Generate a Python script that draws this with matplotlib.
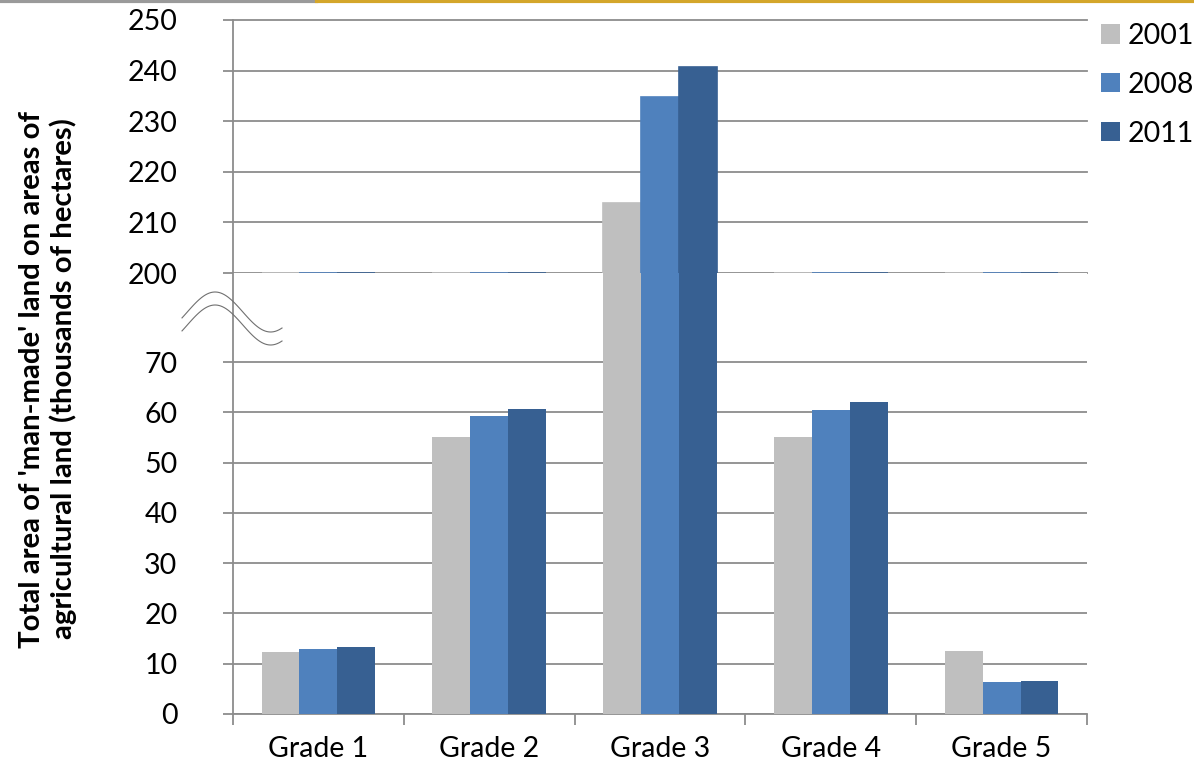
import numpy as np
import matplotlib
matplotlib.use("Agg")
import matplotlib.pyplot as plt
from matplotlib.patches import Patch
from matplotlib.lines import Line2D

categories = ["Grade 1", "Grade 2", "Grade 3", "Grade 4", "Grade 5"]
years = ["2001", "2008", "2011"]
v2001 = [12.3, 55.0, 213.8, 55.0, 12.6]
v2008 = [12.9, 59.3, 234.8, 60.5, 6.4]
v2011 = [13.3, 60.6, 240.7, 62.0, 6.6]
series = [v2001, v2008, v2011]
colors = ["#BFBFBF", "#4F81BD", "#376092"]
lower_ticks = [0, 10, 20, 30, 40, 50, 60, 70]
upper_ticks = [200, 210, 220, 230, 240, 250]

plt.rcParams['font.family'] = ['Lato', 'DejaVu Sans']
W, H = 1194, 766
fig = plt.figure(figsize=(W / 100, H / 100), dpi=100)

left, right = 233 / W, 1087 / W
y_top, y_mid, y_bot = 1 - 20 / H, 1 - 273 / H, 1 - 714 / H
ax_up = fig.add_axes([left, y_mid, right - left, y_top - y_mid])
ax_lo = fig.add_axes([left, y_bot, right - left, y_mid - y_bot])

grid_c = "#8C8C8C"
x = np.arange(len(categories))
bw = 0.222
for i, (vals, c) in enumerate(zip(series, colors)):
    xs = x + (i - 1) * bw
    vals = np.array(vals)
    ax_lo.bar(xs, vals, width=bw, color=c, zorder=3, edgecolor='none')
    up_h = np.clip(vals, 200, None) - 200
    ax_up.bar(xs, up_h, bottom=200, width=bw, color=c, zorder=3,
              edgecolor=c, linewidth=1.2)

FS = 20.5
TICK_PAD = 33

# lower axis
lo_scale = 441 / (714 - 362) * 70
ax_lo.set_ylim(0, lo_scale)
ax_lo.set_yticks(lower_ticks)
ax_lo.set_xlim(-0.5, len(categories) - 0.5)
ax_lo.set_xticks(x)
ax_lo.set_xticklabels(categories, fontsize=FS)
ax_lo.set_xticks(np.arange(-0.5, len(categories)), minor=True)
ax_lo.tick_params(axis='x', which='major', length=0, pad=16)
ax_lo.tick_params(axis='x', which='minor', length=8, color=grid_c, width=1.3)
ax_lo.tick_params(axis='y', length=7, color=grid_c, width=1.3, labelsize=FS, pad=TICK_PAD)
ax_lo.grid(axis='y', color=grid_c, linewidth=1.3, zorder=0)
ax_lo.set_axisbelow(True)
for s in ['top', 'right']:
    ax_lo.spines[s].set_visible(False)
for s in ['left', 'bottom']:
    ax_lo.spines[s].set_color(grid_c)
    ax_lo.spines[s].set_linewidth(1.3)

# upper axis
ax_up.set_ylim(200, 250)
ax_up.set_yticks(upper_ticks)
ax_up.set_xlim(-0.5, len(categories) - 0.5)
ax_up.set_xticks([])
ax_up.tick_params(axis='y', length=7, color=grid_c, width=1.3, labelsize=FS, pad=TICK_PAD)
ax_up.grid(axis='y', color=grid_c, linewidth=1.3, zorder=0)
ax_up.set_axisbelow(True)
for s in ['top', 'right', 'bottom']:
    ax_up.spines[s].set_visible(False)
ax_up.spines['left'].set_color(grid_c)
ax_up.spines['left'].set_linewidth(1.3)
for t in ax_up.get_ygridlines():
    t.set_clip_on(False)

# break symbol (decorative)
def wave(x0, y0):
    t = np.linspace(0, 1, 60)
    xs = x0 + t * 100
    ys = y0 - 20 * np.sin(np.pi * 2 * t * 0.9 - 0.3)
    return xs, ys
for yoff in [0, 13]:
    xs, ys = wave(182, 312 + yoff)
    fig.add_artist(Line2D(xs / W, 1 - ys / H, color="#707070", linewidth=0.8))

# y label
fig.text(48 / W, 1 - 379 / H,
         "Total area of 'man-made' land on areas of\nagricultural land (thousands of hectares)",
         rotation=90, ha='center', va='center', fontsize=21.2, fontweight='bold',
         linespacing=1.17)

# legend
handles = [Patch(facecolor=c, edgecolor='none') for c in colors]
fig.legend(handles, years, loc='upper left', bbox_to_anchor=(1101 / W, 1 - 23 / H),
           frameon=False, fontsize=FS, handlelength=0.65, handleheight=0.65,
           handletextpad=0.3, labelspacing=0.8, borderaxespad=0, borderpad=0)

# header strip
fig.add_artist(Line2D([0, 316 / W], [1 - 1 / H, 1 - 1 / H], color="#9A9A9A", linewidth=3))
fig.add_artist(Line2D([317 / W, 1], [1 - 1 / H, 1 - 1 / H], color="#D4A62A", linewidth=3))

fig.savefig("out.png", dpi=100)
